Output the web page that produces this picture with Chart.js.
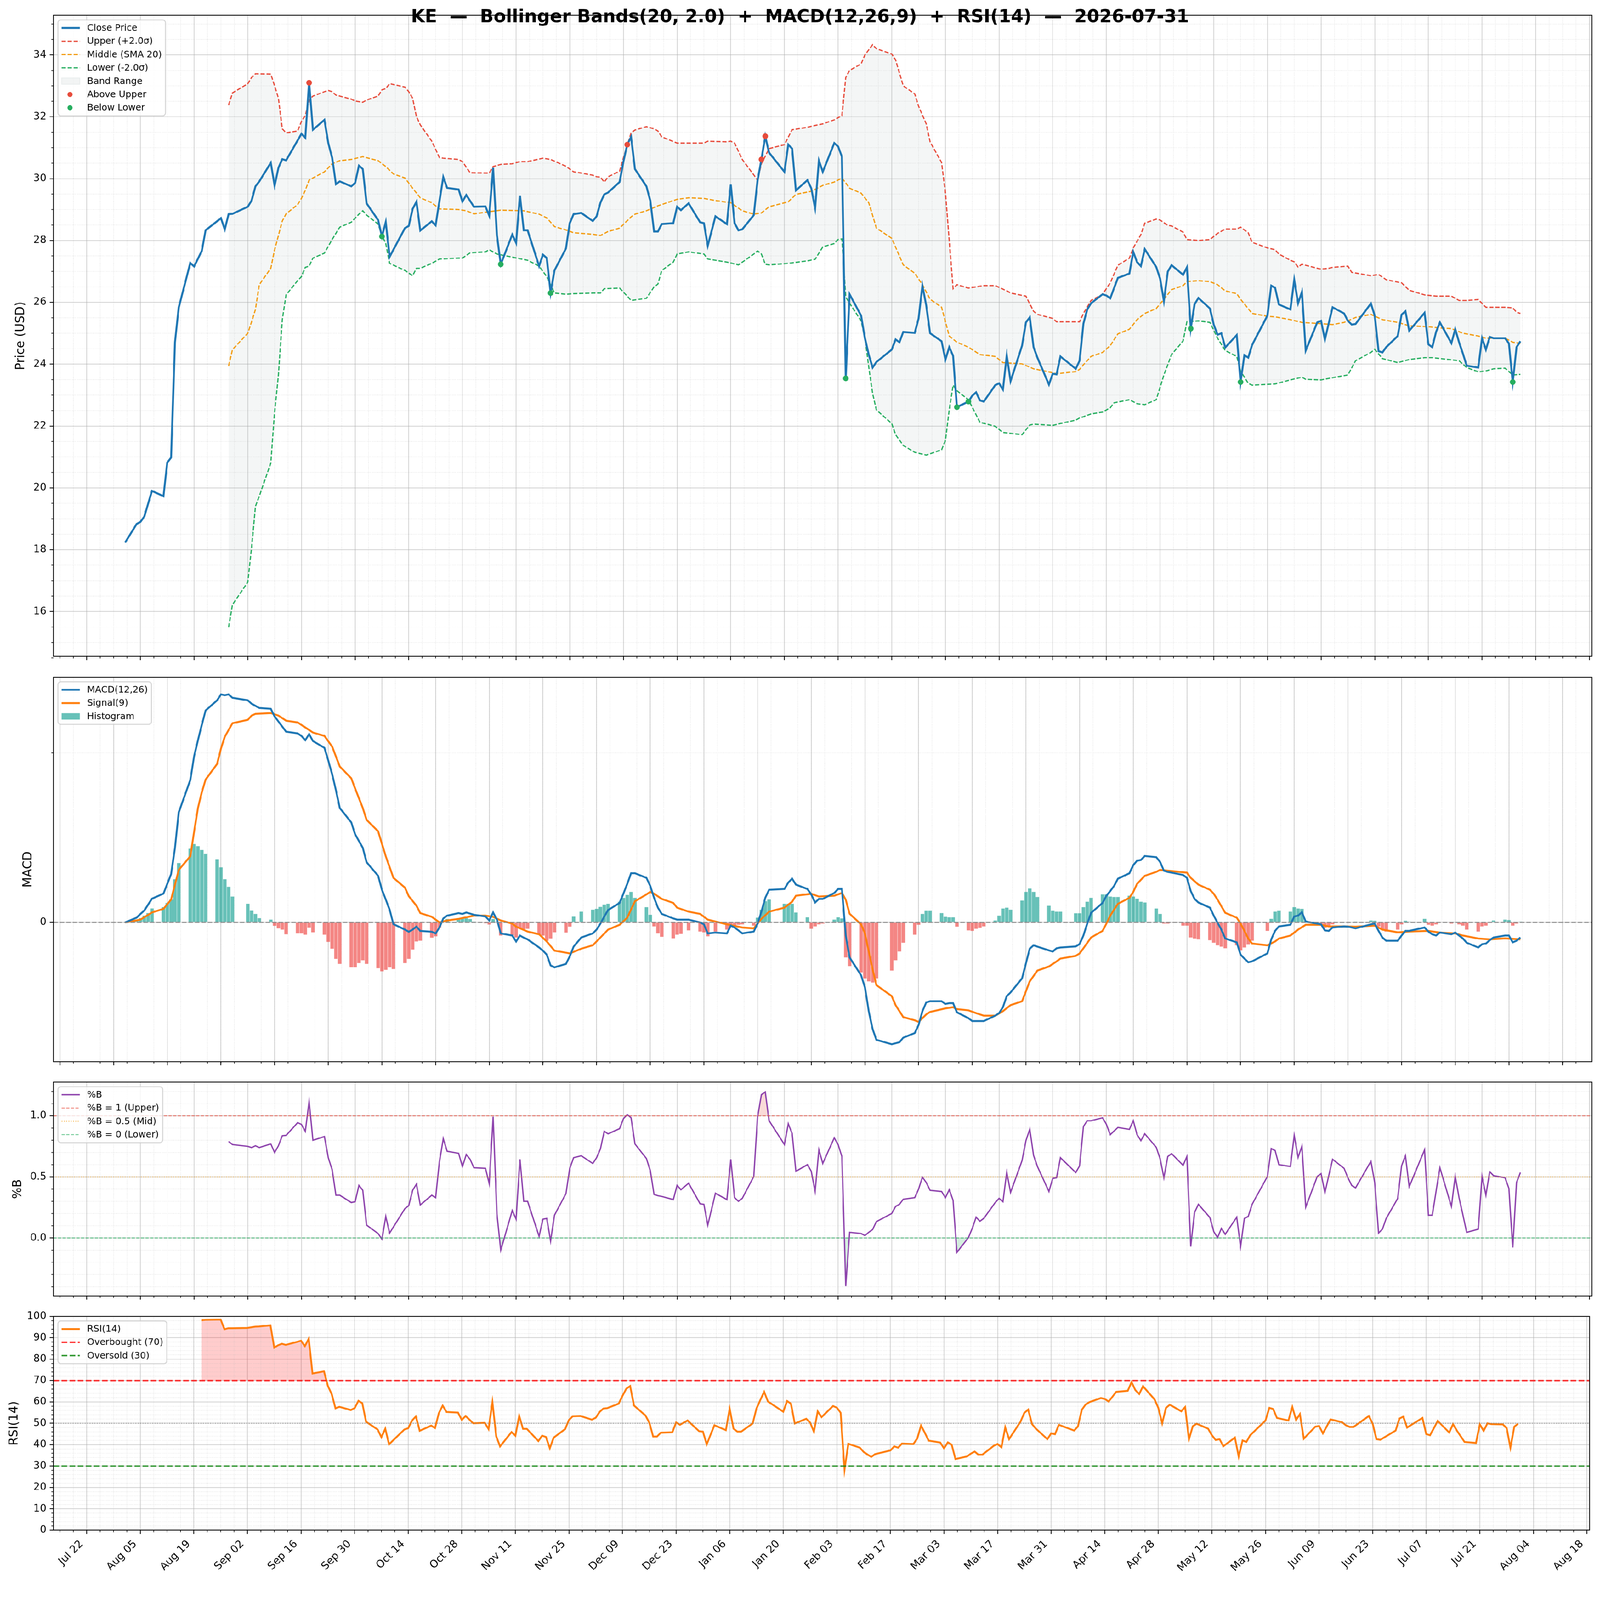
<!DOCTYPE html>
<html><head><meta charset="utf-8">
<script src="https://cdn.jsdelivr.net/npm/chart.js@4.4.1/dist/chart.umd.min.js"></script>
<style>
html,body{margin:0;padding:0;background:#fff;overflow:hidden;}
#wrap{position:absolute;left:0;top:0;width:4378px;height:4322px;background:#fff;overflow:hidden;transform-origin:0 0;}
canvas{position:absolute;left:0;}
</style></head><body>
<div id="wrap">
<canvas id="cPrice" width="4378" height="1824" style="top:0px;width:4378px;height:1824px"></canvas>
<canvas id="cMacd" width="4378" height="1109" style="top:1824px;width:4378px;height:1109px"></canvas>
<canvas id="cPctb" width="4378" height="641" style="top:2933px;width:4378px;height:641px"></canvas>
<canvas id="cRsi" width="4378" height="748" style="top:3574px;width:4378px;height:748px"></canvas>
</div>
<script>
// fit the 4378x4322 drawing into the actual viewport
(function(){
  const w = document.getElementById('wrap');
  const s = Math.min(window.innerWidth / 4378, window.innerHeight / 4322);
  if (s > 0 && Math.abs(s - 1) > 0.001) w.style.transform = 'scale(' + s + ')';
})();

// ---------------- DATA (dates as MM-DD; Aug-Dec = 2025, Jan-Jul = 2026) ----------------
const closeData = [
["08-01",18.23],["08-04",18.83],["08-05",18.90],["08-06",19.07],["08-08",19.90],["08-11",19.73],["08-12",20.82],["08-13",20.98],["08-14",24.71],["08-15",25.84],["08-18",27.27],["08-19",27.16],["08-21",27.66],["08-22",28.33],["08-26",28.72],["08-27",28.36],["08-28",28.85],["08-29",28.86],
["09-02",29.09],["09-03",29.29],["09-04",29.75],["09-05",29.91],["09-08",30.51],["09-09",29.78],["09-10",30.35],["09-11",30.63],["09-12",30.59],["09-16",31.45],["09-17",31.32],["09-18",33.10],["09-19",31.58],["09-22",31.90],["09-23",31.15],["09-24",30.68],["09-25",29.82],["09-26",29.91],["09-29",29.75],["09-30",29.86],
["10-01",30.42],["10-02",30.31],["10-03",29.20],["10-06",28.66],["10-07",28.13],["10-08",28.60],["10-09",27.47],["10-13",28.40],["10-14",28.47],["10-15",29.02],["10-16",29.25],["10-17",28.32],["10-20",28.62],["10-21",28.49],["10-23",30.05],["10-24",29.70],["10-27",29.65],["10-28",29.26],["10-29",29.47],["10-31",29.09],
["11-03",29.10],["11-04",28.80],["11-05",30.35],["11-06",28.16],["11-07",27.23],["11-10",28.19],["11-11",27.92],["11-12",29.45],["11-13",28.33],["11-14",28.33],["11-17",27.17],["11-18",27.54],["11-19",27.43],["11-20",26.30],["11-21",27.03],["11-24",27.74],["11-25",28.56],["11-26",28.85],["11-28",28.89],
["12-01",28.63],["12-02",28.78],["12-03",29.22],["12-04",29.49],["12-05",29.55],["12-08",29.89],["12-09",30.55],["12-10",31.10],["12-11",31.35],["12-12",30.31],["12-15",29.75],["12-16",29.29],["12-17",28.29],["12-18",28.29],["12-19",28.53],["12-22",28.56],["12-23",29.09],["12-24",28.98],["12-26",29.20],["12-29",28.59],["12-30",28.56],["12-31",27.83],
["01-02",28.78],["01-05",28.53],["01-06",29.82],["01-07",28.56],["01-08",28.33],["01-09",28.36],["01-12",28.82],["01-13",29.95],["01-14",30.62],["01-15",31.37],["01-16",30.84],["01-20",30.22],["01-21",31.10],["01-22",30.97],["01-23",29.62],["01-26",29.95],["01-27",29.69],["01-28",29.05],["01-29",30.58],["01-30",30.22],
["02-02",31.15],["02-03",31.04],["02-04",30.71],["02-05",23.54],["02-06",26.26],["02-09",25.57],["02-10",24.84],["02-11",24.31],["02-12",23.89],["02-13",24.07],["02-17",24.47],["02-18",24.80],["02-19",24.71],["02-20",25.04],["02-23",25.01],["02-24",25.48],["02-25",26.53],["02-26",25.90],["02-27",25.00],
["03-02",24.74],["03-03",24.15],["03-04",24.55],["03-05",24.27],["03-06",22.61],["03-09",22.79],["03-10",22.98],["03-11",23.09],["03-12",22.83],["03-13",22.79],["03-16",23.32],["03-17",23.38],["03-18",23.18],["03-19",24.27],["03-20",23.45],["03-23",24.60],["03-24",25.35],["03-25",25.51],["03-26",24.55],["03-27",24.21],["03-30",23.34],["03-31",23.69],
["04-01",23.67],["04-02",24.25],["04-06",23.85],["04-07",24.11],["04-08",25.31],["04-09",25.77],["04-10",25.97],["04-13",26.26],["04-14",26.22],["04-15",26.13],["04-16",26.46],["04-17",26.79],["04-20",26.93],["04-21",27.63],["04-22",27.30],["04-23",27.17],["04-24",27.72],["04-27",27.14],["04-28",26.77],["04-29",26.04],["04-30",26.99],
["05-01",27.20],["05-04",26.89],["05-05",27.13],["05-06",25.15],["05-07",25.94],["05-08",26.14],["05-11",25.80],["05-12",25.28],["05-13",24.95],["05-14",25.00],["05-15",24.54],["05-18",24.94],["05-19",23.42],["05-20",24.29],["05-21",24.21],["05-22",24.62],["05-26",25.57],["05-27",26.54],["05-28",26.47],["05-29",25.93],
["06-01",25.77],["06-02",26.73],["06-03",25.97],["06-04",26.33],["06-05",24.44],["06-08",25.35],["06-09",25.40],["06-10",24.80],["06-12",25.84],["06-15",25.64],["06-16",25.40],["06-17",25.28],["06-18",25.30],["06-22",25.96],["06-23",25.57],["06-24",24.42],["06-25",24.38],["06-26",24.55],["06-29",24.91],["06-30",25.60],
["07-01",25.71],["07-02",25.08],["07-06",25.66],["07-07",24.64],["07-08",24.55],["07-09",25.04],["07-10",25.35],["07-13",24.68],["07-14",25.13],["07-15",24.71],["07-16",24.34],["07-17",23.95],["07-20",23.89],["07-21",24.84],["07-22",24.47],["07-23",24.88],["07-24",24.84],["07-27",24.84],["07-28",24.67],["07-29",23.42],["07-30",24.55],["07-31",24.74]
];
const upperData = [
["08-28",32.38],["08-29",32.77],["09-02",33.07],["09-03",33.27],["09-04",33.39],["09-08",33.38],["09-09",33.00],["09-10",32.60],["09-11",31.61],["09-12",31.48],["09-15",31.54],["09-16",31.85],["09-17",32.04],["09-18",32.54],["09-19",32.67],["09-22",32.81],["09-23",32.85],["09-24",32.81],["09-25",32.70],["09-26",32.67],["09-29",32.57],["09-30",32.51],["10-02",32.47],["10-03",32.54],["10-06",32.67],["10-07",32.87],["10-08",32.91],["10-09",33.07],["10-13",32.96],["10-14",32.81],["10-15",32.60],["10-16",32.01],["10-17",31.74],["10-20",31.21],["10-21",30.95],["10-22",30.68],["10-23",30.66],["10-27",30.62],["10-28",30.55],["10-30",30.19],["11-03",30.18],["11-04",30.18],["11-05",30.39],["11-07",30.46],["11-10",30.48],["11-12",30.55],["11-14",30.55],["11-18",30.66],["11-20",30.62],["11-24",30.40],["11-26",30.22],["11-28",30.18],
["12-01",30.11],["12-02",30.06],["12-03",30.05],["12-04",29.89],["12-05",30.06],["12-08",30.24],["12-09",30.68],["12-11",31.48],["12-12",31.57],["12-15",31.68],["12-17",31.61],["12-18",31.54],["12-19",31.35],["12-23",31.15],["12-30",31.15],["12-31",31.21],["01-05",31.19],["01-06",31.21],["01-07",31.15],["01-09",30.62],["01-12",30.12],["01-13",29.95],["01-14",30.48],["01-16",30.97],["01-20",31.10],["01-22",31.58],["01-26",31.66],["01-28",31.72],["01-30",31.77],["02-02",31.90],["02-04",32.04],["02-05",33.27],["02-06",33.50],["02-09",33.71],["02-10",34.00],["02-12",34.33],["02-13",34.20],["02-17",34.03],["02-18",33.84],["02-20",33.00],["02-23",32.74],["02-24",32.34],["02-26",31.77],["02-27",31.19],
["03-02",30.52],["03-03",29.55],["03-04",28.00],["03-05",26.44],["03-06",26.57],["03-09",26.46],["03-11",26.50],["03-13",26.54],["03-16",26.54],["03-19",26.37],["03-20",26.30],["03-24",26.20],["03-26",25.71],["03-27",25.61],["03-31",25.48],["04-01",25.37],["04-06",25.37],["04-07",25.37],["04-08",25.64],["04-10",26.06],["04-13",26.26],["04-15",26.63],["04-17",27.20],["04-20",27.43],["04-21",27.76],["04-23",28.19],["04-24",28.56],["04-27",28.69],["04-28",28.66],["04-30",28.49],["05-01",28.47],["05-04",28.27],["05-05",28.03],["05-08",28.00],["05-11",28.03],["05-13",28.23],["05-15",28.37],["05-18",28.37],["05-19",28.43],["05-21",28.25],["05-22",27.94],["05-26",27.76],["05-28",27.70],["05-29",27.56],
["06-01",27.36],["06-02",27.31],["06-03",27.14],["06-04",27.23],["06-09",27.07],["06-11",27.10],["06-12",27.13],["06-16",27.17],["06-17",26.97],["06-22",26.86],["06-24",26.90],["06-26",26.73],["06-30",26.63],["07-02",26.39],["07-06",26.24],["07-09",26.20],["07-13",26.20],["07-15",26.06],["07-17",26.06],["07-20",26.09],["07-22",25.84],["07-27",25.84],["07-29",25.82],["07-30",25.68],["07-31",25.64]
];
const middleData = [
["08-28",23.94],["08-29",24.47],["09-02",25.00],["09-03",25.37],["09-04",25.77],["09-05",26.57],["09-08",27.10],["09-09",27.70],["09-10",28.16],["09-11",28.63],["09-12",28.86],["09-15",29.16],["09-16",29.36],["09-17",29.62],["09-18",29.95],["09-19",30.02],["09-22",30.22],["09-24",30.48],["09-26",30.58],["09-29",30.62],["10-01",30.68],["10-02",30.71],["10-06",30.58],["10-08",30.39],["10-10",30.15],["10-13",30.02],["10-15",29.69],["10-17",29.38],["10-20",29.22],["10-22",29.02],["10-27",29.00],["10-29",28.96],["10-31",28.86],["11-04",28.93],["11-07",28.98],["11-13",28.96],["11-17",28.85],["11-19",28.73],["11-21",28.45],["11-24",28.34],["11-26",28.25],
["12-01",28.20],["12-03",28.16],["12-05",28.29],["12-08",28.40],["12-11",28.76],["12-12",28.85],["12-15",28.96],["12-18",29.12],["12-23",29.33],["12-26",29.38],["12-30",29.36],["01-02",29.29],["01-06",29.22],["01-09",28.96],["01-12",28.85],["01-14",28.89],["01-16",29.09],["01-21",29.25],["01-23",29.49],["01-27",29.59],["01-30",29.78],["02-02",29.89],["02-04",30.02],["02-05",29.86],["02-06",29.69],["02-09",29.53],["02-11",29.22],["02-13",28.40],["02-17",28.07],["02-20",27.21],["02-23",26.94],["02-25",26.57],["02-27",26.10],
["03-02",25.84],["03-04",24.91],["03-06",24.71],["03-09",24.55],["03-12",24.31],["03-16",24.25],["03-18",24.05],["03-23",24.01],["03-26",23.85],["03-30",23.75],["04-01",23.69],["04-06",23.76],["04-07",23.83],["04-08",23.98],["04-10",24.25],["04-13",24.38],["04-15",24.60],["04-17",24.98],["04-20",25.13],["04-22",25.44],["04-24",25.64],["04-27",25.80],["04-29",26.10],["05-01",26.41],["05-04",26.54],["05-05",26.67],["05-08",26.70],["05-11",26.67],["05-13",26.57],["05-15",26.37],["05-18",26.28],["05-19",26.10],["05-22",25.64],["05-26",25.55],["05-28",25.53],
["06-01",25.44],["06-04",25.35],["06-09",25.31],["06-12",25.28],["06-15",25.35],["06-18",25.51],["06-22",25.61],["06-25",25.44],["06-29",25.35],["07-02",25.24],["07-07",25.21],["07-10",25.17],["07-13",25.15],["07-16",25.00],["07-20",24.91],["07-22",24.84],["07-27",24.84],["07-29",24.71],["07-31",24.67]
];
const lowerData = [
["08-28",15.49],["08-29",16.22],["09-02",16.95],["09-03",18.07],["09-04",19.40],["09-05",19.73],["09-08",20.80],["09-09",22.45],["09-10",23.65],["09-11",25.44],["09-12",26.24],["09-15",26.70],["09-16",26.83],["09-17",27.13],["09-18",27.17],["09-19",27.43],["09-22",27.59],["09-24",28.03],["09-25",28.23],["09-26",28.43],["09-29",28.59],["10-01",28.85],["10-02",28.96],["10-03",28.82],["10-06",28.53],["10-07",28.16],["10-08",27.90],["10-09",27.26],["10-13",27.03],["10-15",26.86],["10-16",27.10],["10-17",27.10],["10-20",27.26],["10-22",27.40],["10-27",27.43],["10-28",27.43],["10-30",27.60],["11-03",27.63],["11-04",27.70],["11-06",27.56],["11-10",27.46],["11-14",27.36],["11-17",27.17],["11-19",26.83],["11-21",26.30],["11-24",26.26],["11-26",26.28],
["12-01",26.30],["12-03",26.30],["12-04",26.44],["12-08",26.46],["12-10",26.20],["12-11",26.06],["12-15",26.13],["12-17",26.50],["12-18",26.59],["12-19",27.03],["12-22",27.30],["12-23",27.56],["12-26",27.63],["12-30",27.56],["12-31",27.40],["01-05",27.30],["01-08",27.21],["01-12",27.56],["01-13",27.66],["01-14",27.56],["01-15",27.23],["01-16",27.21],["01-21",27.26],["01-26",27.34],["01-28",27.39],["01-30",27.79],["02-02",27.90],["02-03",28.03],["02-04",28.05],["02-05",26.17],["02-06",25.97],["02-09",25.40],["02-10",24.84],["02-11",23.91],["02-12",23.05],["02-13",22.52],["02-17",22.08],["02-18",21.72],["02-20",21.37],["02-23",21.15],["02-26",21.06],
["03-02",21.23],["03-03",21.53],["03-04",22.52],["03-05",23.32],["03-06",23.14],["03-09",22.85],["03-12",22.12],["03-16",21.99],["03-18",21.79],["03-23",21.72],["03-25",22.03],["03-26",22.06],["03-31",22.02],["04-02",22.08],["04-06",22.19],["04-07",22.26],["04-08",22.30],["04-10",22.39],["04-13",22.45],["04-15",22.59],["04-16",22.75],["04-20",22.85],["04-22",22.72],["04-24",22.69],["04-27",22.85],["04-29",23.65],["05-01",24.31],["05-04",24.75],["05-05",25.37],["05-08",25.40],["05-11",25.35],["05-13",24.84],["05-15",24.44],["05-18",24.25],["05-19",23.78],["05-21",23.38],["05-22",23.32],["05-28",23.36],
["06-01",23.49],["06-04",23.58],["06-05",23.51],["06-09",23.49],["06-11",23.54],["06-16",23.65],["06-18",24.11],["06-22",24.38],["06-23",24.48],["06-25",24.18],["06-29",24.05],["07-02",24.15],["07-06",24.21],["07-08",24.21],["07-13",24.14],["07-15",24.11],["07-17",23.89],["07-20",23.75],["07-22",23.78],["07-24",23.85],["07-27",23.87],["07-29",23.65],["07-31",23.67]
];
const aboveUpper = [["09-18",33.10],["12-10",31.10],["01-14",30.62],["01-15",31.37]];
const belowLower = [["10-07",28.13],["11-07",27.23],["11-20",26.30],["02-05",23.54],["03-06",22.61],["03-09",22.79],["05-06",25.15],["05-19",23.42],["07-29",23.42]];

const macdData = [
["08-01",0],["08-04",0.056],["08-05",0.10],["08-06",0.14],["08-07",0.21],["08-08",0.28],["08-11",0.34],["08-12",0.455],["08-13",0.57],["08-14",0.88],["08-15",1.30],["08-18",1.68],["08-19",1.96],["08-20",2.15],["08-21",2.33],["08-22",2.50],["08-25",2.62],["08-26",2.69],["08-27",2.68],["08-28",2.69],["08-29",2.65],["09-02",2.62],["09-03",2.58],["09-05",2.53],["09-08",2.52],["09-09",2.43],["09-10",2.37],["09-12",2.25],["09-15",2.23],["09-16",2.20],["09-17",2.15],["09-18",2.22],["09-19",2.14],["09-22",2.06],["09-23",1.91],["09-24",1.75],["09-25",1.56],["09-26",1.35],["09-29",1.18],["09-30",1.04],["10-02",0.88],["10-03",0.71],["10-06",0.55],["10-07",0.385],["10-08",0.27],["10-09",0.15],["10-10",-0.02],["10-13",-0.085],["10-14",-0.11],["10-15",-0.085],["10-16",-0.05],["10-17",-0.10],["10-20",-0.11],["10-21",-0.13],["10-22",-0.06],["10-23",0.047],["10-24",0.08],["10-27",0.11],["10-28",0.10],["10-29",0.117],["10-31",0.09],
["11-03",0.07],["11-04",0.023],["11-05",0.117],["11-06",0.033],["11-07",-0.13],["11-10",-0.155],["11-11",-0.225],["11-12",-0.155],["11-13",-0.18],["11-14",-0.20],["11-17",-0.296],["11-18",-0.333],["11-19",-0.38],["11-20",-0.507],["11-21",-0.53],["11-24",-0.49],["11-25",-0.40],["11-26",-0.286],["11-28",-0.178],["12-01",-0.13],["12-02",-0.085],["12-03",-0.014],["12-04",0.07],["12-05",0.146],["12-08",0.23],["12-09",0.34],["12-10",0.455],["12-11",0.58],["12-12",0.58],["12-15",0.526],["12-16",0.43],["12-17",0.29],["12-18",0.174],["12-19",0.10],["12-22",0.047],["12-23",0.033],["12-26",0.033],["12-29",0.0],["12-30",-0.023],["12-31",-0.13],
["01-02",-0.12],["01-05",-0.13],["01-06",-0.038],["01-07",-0.06],["01-08",-0.094],["01-09",-0.13],["01-12",-0.108],["01-13",-0.014],["01-14",0.127],["01-15",0.29],["01-16",0.385],["01-20",0.394],["01-21",0.47],["01-22",0.516],["01-23",0.446],["01-26",0.394],["01-27",0.33],["01-28",0.235],["01-29",0.277],["01-30",0.277],["02-02",0.347],["02-03",0.394],["02-04",0.394],["02-05",-0.155],["02-06",-0.413],["02-09",-0.624],["02-10",-0.765],["02-11",-1.047],["02-12",-1.258],["02-13",-1.385],["02-17",-1.437],["02-19",-1.413],["02-20",-1.36],["02-23",-1.305],["02-24",-1.21],["02-25",-1.047],["02-26",-0.944],["02-27",-0.93],
["03-02",-0.93],["03-03",-0.962],["03-04",-0.953],["03-05",-0.953],["03-06",-1.06],["03-09",-1.13],["03-10",-1.164],["03-13",-1.164],["03-16",-1.10],["03-17",-1.07],["03-18",-1.00],["03-19",-0.87],["03-20",-0.826],["03-23",-0.66],["03-24",-0.484],["03-25",-0.31],["03-26",-0.27],["03-27",-0.286],["03-30",-0.33],["03-31",-0.343],["04-01",-0.305],["04-02",-0.296],["04-06",-0.283],["04-07",-0.255],["04-08",-0.155],["04-09",-0.014],["04-10",0.113],["04-13",0.23],["04-14",0.315],["04-15",0.37],["04-16",0.43],["04-17",0.516],["04-20",0.58],["04-21",0.676],["04-22",0.728],["04-23",0.737],["04-24",0.784],["04-27",0.77],["04-28",0.714],["04-29",0.61],["04-30",0.596],
["05-01",0.587],["05-04",0.56],["05-05",0.526],["05-06",0.37],["05-07",0.277],["05-08",0.235],["05-11",0.174],["05-12",0.08],["05-13",-0.005],["05-14",-0.085],["05-15",-0.19],["05-18",-0.235],["05-19",-0.38],["05-20",-0.427],["05-21",-0.47],["05-22",-0.46],["05-26",-0.366],["05-27",-0.20],["05-28",-0.10],["05-29",-0.047],["06-01",-0.028],["06-02",0.07],["06-03",0.08],["06-04",0.12],["06-05",0.01],["06-08",-0.014],["06-09",-0.023],["06-10",-0.094],["06-11",-0.10],["06-12",-0.06],["06-15",-0.047],["06-16",-0.05],["06-18",-0.07],["06-22",-0.023],["06-23",-0.014],["06-24",-0.10],["06-25",-0.178],["06-26",-0.216],["06-29",-0.216],["06-30",-0.155],
["07-01",-0.10],["07-02",-0.10],["07-06",-0.06],["07-07",-0.108],["07-08",-0.14],["07-09",-0.155],["07-10",-0.12],["07-13",-0.14],["07-14",-0.12],["07-15",-0.155],["07-16",-0.19],["07-17",-0.24],["07-20",-0.296],["07-21",-0.258],["07-22",-0.25],["07-23",-0.21],["07-24",-0.178],["07-27",-0.155],["07-28",-0.155],["07-29",-0.235],["07-30",-0.216],["07-31",-0.178]
];
const signalData = [
["08-01",0],["08-05",0.033],["08-08",0.117],["08-11",0.16],["08-13",0.27],["08-15",0.62],["08-18",0.78],["08-19",1.07],["08-20",1.35],["08-21",1.535],["08-22",1.685],["08-25",1.87],["08-26",2.05],["08-27",2.19],["08-29",2.35],["09-02",2.39],["09-03",2.44],["09-04",2.46],["09-08",2.47],["09-10",2.44],["09-12",2.38],["09-15",2.36],["09-17",2.30],["09-19",2.24],["09-22",2.20],["09-24",2.075],["09-26",1.84],["09-29",1.70],["09-30",1.58],["10-02",1.35],["10-03",1.21],["10-06",1.075],["10-08",0.78],["10-10",0.526],["10-13",0.41],["10-14",0.31],["10-16",0.197],["10-17",0.11],["10-20",0.066],["10-22",0.0],["10-24",0.023],["10-27",0.042],["10-31",0.08],
["11-03",0.08],["11-05",0.066],["11-07",0.023],["11-10",-0.014],["11-11",-0.05],["11-14",-0.108],["11-17",-0.14],["11-19",-0.225],["11-21",-0.333],["11-24",-0.357],["11-25",-0.366],["11-28",-0.31],["12-01",-0.27],["12-03",-0.178],["12-05",-0.085],["12-08",-0.028],["12-10",0.056],["12-12",0.25],["12-15",0.33],["12-16",0.36],["12-17",0.338],["12-19",0.277],["12-22",0.23],["12-23",0.174],["12-26",0.127],["12-29",0.10],["12-31",0.033],
["01-05",-0.023],["01-09",-0.06],["01-12",-0.07],["01-14",0.042],["01-16",0.127],["01-20",0.174],["01-22",0.244],["01-23",0.315],["01-27",0.338],["01-29",0.305],["02-02",0.315],["02-04",0.347],["02-05",0.268],["02-06",0.103],["02-09",-0.023],["02-10",-0.13],["02-11",-0.343],["02-12",-0.554],["02-13",-0.74],["02-17",-0.87],["02-18",-0.976],["02-20",-1.117],["02-23",-1.155],["02-24",-1.174],["02-26",-1.085],["02-27",-1.056],
["03-03",-1.014],["03-05",-1.00],["03-06",-1.023],["03-09",-1.037],["03-11",-1.07],["03-13",-1.10],["03-16",-1.10],["03-18",-1.047],["03-20",-0.976],["03-23",-0.93],["03-25",-0.695],["03-27",-0.568],["03-30",-0.52],["04-01",-0.46],["04-02",-0.427],["04-06",-0.395],["04-07",-0.366],["04-08",-0.305],["04-10",-0.178],["04-13",-0.10],["04-14",-0.014],["04-15",0.08],["04-17",0.22],["04-20",0.29],["04-21",0.36],["04-22",0.455],["04-24",0.55],["04-27",0.596],["04-28",0.62],
["05-05",0.587],["05-06",0.526],["05-08",0.446],["05-11",0.385],["05-12",0.338],["05-13",0.268],["05-15",0.113],["05-18",0.056],["05-19",-0.014],["05-20",-0.10],["05-21",-0.19],["05-22",-0.25],["05-26",-0.27],["05-28",-0.225],["05-29",-0.19],["06-01",-0.155],["06-03",-0.085],["06-05",-0.028],["06-09",-0.028],["06-11",-0.047],["06-15",-0.047],["06-18",-0.05],["06-23",-0.038],["06-25",-0.085],["06-29",-0.117],
["07-02",-0.108],["07-07",-0.10],["07-10",-0.12],["07-14",-0.13],["07-16",-0.155],["07-20",-0.19],["07-23",-0.20],["07-27",-0.188],["07-31",-0.20]
];
const histData = [
["08-04",0.02],["08-05",0.05],["08-06",0.08],["08-07",0.11],["08-08",0.165],["08-11",0.18],["08-12",0.23],["08-13",0.27],["08-14",0.51],["08-15",0.70],["08-18",0.87],["08-19",0.925],["08-20",0.90],["08-21",0.855],["08-22",0.81],["08-25",0.746],["08-26",0.65],["08-27",0.51],["08-28",0.42],["08-29",0.305],
["09-02",0.22],["09-03",0.14],["09-04",0.10],["09-05",0.05],["09-08",0.033],["09-09",-0.04],["09-10",-0.07],["09-11",-0.085],["09-12",-0.14],["09-15",-0.13],["09-16",-0.13],["09-17",-0.145],["09-18",-0.06],["09-19",-0.117],["09-22",-0.145],["09-23",-0.23],["09-24",-0.31],["09-25",-0.43],["09-26",-0.49],["09-29",-0.53],["09-30",-0.53],
["10-01",-0.48],["10-02",-0.446],["10-03",-0.49],["10-06",-0.54],["10-07",-0.577],["10-08",-0.56],["10-09",-0.53],["10-10",-0.55],["10-13",-0.48],["10-14",-0.43],["10-15",-0.32],["10-16",-0.225],["10-17",-0.216],["10-20",-0.18],["10-21",-0.164],["10-22",-0.06],["10-23",0.02],["10-24",0.04],["10-27",0.05],["10-28",0.05],["10-29",0.05],["10-30",0.04],["10-31",0.01],
["11-03",-0.01],["11-04",-0.025],["11-05",0.04],["11-06",0.01],["11-07",-0.155],["11-10",-0.155],["11-11",-0.178],["11-12",-0.07],["11-13",-0.08],["11-14",-0.075],["11-17",-0.145],["11-18",-0.155],["11-19",-0.216],["11-20",-0.19],["11-21",-0.117],["11-24",-0.12],["11-25",-0.05],["11-26",0.07],["11-28",0.127],
["12-01",0.15],["12-02",0.16],["12-03",0.183],["12-04",0.21],["12-05",0.22],["12-08",0.244],["12-09",0.29],["12-10",0.324],["12-11",0.36],["12-12",0.29],["12-15",0.18],["12-16",0.09],["12-17",-0.047],["12-18",-0.13],["12-19",-0.17],["12-22",-0.188],["12-23",-0.145],["12-24",-0.136],["12-26",-0.094],["12-29",-0.108],["12-30",-0.117],["12-31",-0.164],
["01-02",-0.108],["01-05",-0.085],["01-06",-0.05],["01-07",-0.038],["01-08",-0.028],["01-09",-0.023],["01-12",-0.038],["01-13",0.056],["01-14",0.15],["01-15",0.25],["01-16",0.27],["01-20",0.22],["01-21",0.22],["01-22",0.22],["01-23",0.117],["01-26",0.06],["01-27",-0.075],["01-28",-0.047],["01-29",-0.023],["01-30",-0.014],
["02-02",0.033],["02-03",0.06],["02-04",0.047],["02-05",-0.413],["02-06",-0.516],["02-09",-0.59],["02-10",-0.66],["02-11",-0.695],["02-12",-0.71],["02-13",-0.66],["02-17",-0.568],["02-18",-0.446],["02-19",-0.343],["02-20",-0.24],["02-23",-0.145],["02-24",-0.028],["02-25",0.10],["02-26",0.136],["02-27",0.136],
["03-02",0.11],["03-03",0.066],["03-04",0.06],["03-05",0.06],["03-06",-0.05],["03-09",-0.094],["03-10",-0.10],["03-11",-0.075],["03-12",-0.066],["03-13",-0.047],["03-16",0.023],["03-17",0.08],["03-18",0.164],["03-19",0.174],["03-20",0.15],["03-23",0.258],["03-24",0.36],["03-25",0.40],["03-26",0.36],["03-27",0.30],["03-30",0.197],["03-31",0.136],
["04-01",0.127],["04-02",0.127],["04-06",0.108],["04-07",0.108],["04-08",0.18],["04-09",0.244],["04-10",0.29],["04-13",0.33],["04-14",0.33],["04-15",0.305],["04-16",0.30],["04-17",0.30],["04-20",0.315],["04-21",0.305],["04-22",0.28],["04-23",0.244],["04-24",0.235],["04-27",0.164],["04-28",0.10],["04-29",-0.014],["04-30",-0.014],
["05-01",-0.005],["05-04",-0.038],["05-05",-0.038],["05-06",-0.178],["05-07",-0.19],["05-08",-0.20],["05-11",-0.21],["05-12",-0.24],["05-13",-0.27],["05-14",-0.286],["05-15",-0.305],["05-18",-0.27],["05-19",-0.33],["05-20",-0.296],["05-21",-0.258],["05-22",-0.216],["05-26",-0.10],["05-27",0.042],["05-28",0.127],["05-29",0.136],
["06-01",0.127],["06-02",0.18],["06-03",0.164],["06-04",0.16],["06-05",0.02],["06-09",-0.023],["06-10",-0.06],["06-11",-0.047],["06-12",-0.023],["06-15",0.005],["06-16",-0.005],["06-17",0.005],["06-18",0.01],["06-22",0.023],["06-23",0.02],["06-24",-0.047],["06-25",-0.085],["06-26",-0.108],["06-29",-0.085],["06-30",-0.023],
["07-01",0.02],["07-02",0.01],["07-06",0.042],["07-07",-0.028],["07-08",-0.038],["07-09",-0.023],["07-10",-0.005],["07-13",-0.014],["07-14",0.005],["07-15",-0.023],["07-16",-0.038],["07-17",-0.085],["07-20",-0.108],["07-21",-0.047],["07-22",-0.038],["07-23",-0.005],["07-24",0.023],["07-27",0.033],["07-28",0.028],["07-29",-0.038],["07-30",-0.014],["07-31",0.01]
];
const pctbData = [
["08-28",0.79],["08-29",0.765],["09-02",0.75],["09-03",0.74],["09-04",0.755],["09-05",0.74],["09-08",0.77],["09-09",0.70],["09-10",0.755],["09-11",0.837],["09-12",0.84],["09-15",0.944],["09-16",0.93],["09-17",0.873],["09-18",1.114],["09-19",0.80],["09-22",0.83],["09-23",0.657],["09-24",0.56],["09-25",0.35],["09-26",0.35],["09-29",0.29],["09-30",0.297],
["10-01",0.43],["10-02",0.39],["10-03",0.105],["10-06",0.036],["10-07",-0.01],["10-08",0.176],["10-09",0.04],["10-13",0.24],["10-14",0.265],["10-15",0.39],["10-16",0.44],["10-17",0.27],["10-20",0.35],["10-21",0.33],["10-22",0.624],["10-23",0.814],["10-24",0.71],["10-27",0.693],["10-28",0.585],["10-29",0.683],["10-30",0.644],["10-31",0.575],
["11-03",0.57],["11-04",0.444],["11-05",0.993],["11-06",0.193],["11-07",-0.10],["11-10",0.225],["11-11",0.154],["11-12",0.644],["11-13",0.30],["11-14",0.30],["11-17",0.013],["11-18",0.154],["11-19",0.16],["11-20",-0.026],["11-21",0.186],["11-24",0.363],["11-25",0.57],["11-26",0.657],["11-28",0.673],
["12-01",0.61],["12-02",0.657],["12-03",0.73],["12-04",0.873],["12-05",0.853],["12-08",0.895],["12-09",0.977],["12-10",1.01],["12-11",0.984],["12-12",0.77],["12-15",0.65],["12-16",0.552],["12-17",0.356],["12-18",0.346],["12-19",0.34],["12-22",0.314],["12-23",0.43],["12-24",0.395],["12-26",0.448],["12-29",0.28],["12-30",0.275],["12-31",0.105],
["01-02",0.366],["01-05",0.314],["01-06",0.644],["01-07",0.33],["01-08",0.30],["01-09",0.324],["01-12",0.503],["01-13",0.993],["01-14",1.173],["01-15",1.196],["01-16",0.96],["01-20",0.765],["01-21",0.935],["01-22",0.856],["01-23",0.546],["01-26",0.60],["01-27",0.546],["01-28",0.382],["01-29",0.722],["01-30",0.61],
["02-02",0.82],["02-03",0.765],["02-04",0.667],["02-05",-0.395],["02-06",0.046],["02-09",0.036],["02-10",0.02],["02-11",0.046],["02-12",0.069],["02-13",0.134],["02-17",0.20],["02-18",0.258],["02-19",0.275],["02-20",0.317],["02-23",0.33],["02-24",0.40],["02-25",0.497],["02-26",0.454],["02-27",0.39],
["03-02",0.38],["03-03",0.33],["03-04",0.395],["03-05",0.307],["03-06",-0.118],["03-09",0.003],["03-10",0.078],["03-11",0.17],["03-12",0.137],["03-13",0.16],["03-16",0.29],["03-17",0.324],["03-18",0.297],["03-19",0.536],["03-20",0.373],["03-23",0.634],["03-24",0.797],["03-25",0.889],["03-26",0.676],["03-27",0.585],["03-30",0.38],["03-31",0.487],
["04-01",0.493],["04-02",0.657],["04-06",0.536],["04-07",0.59],["04-08",0.912],["04-09",0.96],["04-10",0.96],["04-13",0.984],["04-14",0.93],["04-15",0.846],["04-17",0.905],["04-20",0.889],["04-21",0.96],["04-22",0.846],["04-23",0.797],["04-24",0.853],["04-27",0.742],["04-28",0.65],["04-29",0.493],["04-30",0.667],
["05-01",0.69],["05-04",0.595],["05-05",0.667],["05-06",-0.07],["05-07",0.21],["05-08",0.275],["05-11",0.167],["05-12",0.052],["05-13",0.003],["05-14",0.078],["05-15",0.03],["05-18",0.17],["05-19",-0.07],["05-20",0.16],["05-21",0.176],["05-22",0.275],["05-26",0.503],["05-27",0.732],["05-28",0.716],["05-29",0.60],
["06-01",0.585],["06-02",0.84],["06-03",0.66],["06-04",0.75],["06-05",0.252],["06-08",0.503],["06-09",0.526],["06-10",0.373],["06-12",0.644],["06-15",0.57],["06-16",0.493],["06-17",0.43],["06-18",0.41],["06-22",0.627],["06-23",0.454],["06-24",0.04],["06-25",0.072],["06-26",0.16],["06-29",0.324],["06-30",0.59],
["07-01",0.673],["07-02",0.42],["07-06",0.722],["07-07",0.186],["07-08",0.186],["07-10",0.575],["07-13",0.258],["07-14",0.503],["07-15",0.33],["07-17",0.046],["07-20",0.072],["07-21",0.503],["07-22",0.35],["07-23",0.542],["07-24",0.51],["07-27",0.493],["07-28",0.405],["07-29",-0.078],["07-30",0.454],["07-31",0.536]
];
const rsiData = [
["08-21",98.2],["08-22",98.4],["08-25",98.5],["08-26",98.5],["08-27",94.0],["08-28",94.5],["08-29",94.5],["09-02",94.6],["09-03",94.9],["09-04",95.2],["09-05",95.3],["09-08",95.8],["09-09",85.4],["09-10",86.5],["09-11",87.2],["09-12",86.7],["09-15",88.1],["09-16",88.6],["09-17",86.1],["09-18",89.5],["09-19",73.3],["09-22",74.3],["09-23",67.5],["09-24",63.7],["09-25",57.0],["09-26",57.7],["09-29",56.2],["09-30",57.1],
["10-01",60.5],["10-02",59.4],["10-03",50.7],["10-06",47.1],["10-07",43.5],["10-08",47.5],["10-09",40.2],["10-13",47.1],["10-14",47.7],["10-15",51.3],["10-16",53.2],["10-17",46.5],["10-20",48.9],["10-21",47.8],["10-22",54.7],["10-23",58.3],["10-24",55.3],["10-27",55.0],["10-28",51.6],["10-29",53.4],["10-31",50.0],
["11-03",50.2],["11-04",47.3],["11-05",59.9],["11-06",43.9],["11-07",39.2],["11-10",45.9],["11-11",44.2],["11-12",53.4],["11-13",47.4],["11-14",47.4],["11-17",41.7],["11-18",44.2],["11-19",43.6],["11-20",38.3],["11-21",43.3],["11-24",47.3],["11-25",51.6],["11-26",53.3],["11-28",53.4],
["12-01",51.7],["12-02",52.6],["12-03",55.3],["12-04",56.9],["12-05",57.1],["12-08",59.2],["12-09",62.9],["12-10",66.2],["12-11",67.4],["12-12",58.3],["12-15",53.6],["12-16",50.3],["12-17",43.8],["12-18",43.8],["12-19",45.6],["12-22",45.8],["12-23",50.4],["12-24",49.3],["12-26",51.3],["12-29",46.3],["12-30",46.1],["12-31",40.2],
["01-02",49.1],["01-05",46.8],["01-06",56.7],["01-07",47.5],["01-08",46.1],["01-09",46.1],["01-12",49.9],["01-13",56.9],["01-14",60.9],["01-15",64.7],["01-16",60.2],["01-20",55.4],["01-21",60.4],["01-22",59.2],["01-23",49.9],["01-26",52.1],["01-27",50.4],["01-28",46.1],["01-29",55.6],["01-30",52.9],
["02-02",58.1],["02-03",57.3],["02-04",54.9],["02-05",28.3],["02-06",40.4],["02-09",38.6],["02-10",36.6],["02-11",35.4],["02-12",34.3],["02-13",35.6],["02-17",37.3],["02-18",39.2],["02-19",38.6],["02-20",40.5],["02-23",40.3],["02-24",42.9],["02-25",48.9],["02-26",45.5],["02-27",41.9],
["03-02",41.0],["03-03",38.3],["03-04",41.1],["03-05",40.0],["03-06",33.3],["03-09",34.5],["03-10",35.8],["03-11",36.8],["03-12",35.3],["03-13",35.3],["03-16",39.5],["03-17",40.3],["03-18",38.8],["03-19",48.1],["03-20",42.6],["03-23",50.8],["03-24",54.9],["03-25",56.4],["03-26",49.6],["03-27",47.5],["03-30",42.6],["03-31",45.3],
["04-01",44.9],["04-02",49.3],["04-06",46.6],["04-07",48.6],["04-08",56.3],["04-09",58.8],["04-10",59.9],["04-13",61.8],["04-14",61.4],["04-15",60.2],["04-16",62.4],["04-17",64.7],["04-20",65.2],["04-21",69.2],["04-22",65.5],["04-23",63.7],["04-24",67.3],["04-27",61.2],["04-28",57.2],["04-29",50.0],["04-30",57.2],
["05-01",58.7],["05-04",55.6],["05-05",57.6],["05-06",42.6],["05-07",48.6],["05-08",49.8],["05-11",47.5],["05-12",44.4],["05-13",42.2],["05-14",42.6],["05-15",39.3],["05-18",43.3],["05-19",34.5],["05-20",42.0],["05-21",41.3],["05-22",44.4],["05-26",51.3],["05-27",57.2],["05-28",56.7],["05-29",52.5],
["06-01",51.3],["06-02",57.6],["06-03",51.6],["06-04",54.3],["06-05",42.8],["06-08",48.4],["06-09",48.7],["06-10",45.3],["06-12",51.8],["06-15",50.5],["06-16",49.1],["06-17",48.3],["06-18",48.3],["06-22",53.4],["06-23",49.8],["06-24",42.6],["06-25",42.3],["06-29",46.6],["06-30",52.2],
["07-01",53.1],["07-02",48.0],["07-06",52.5],["07-07",45.0],["07-08",44.4],["07-10",51.1],["07-13",45.7],["07-14",49.6],["07-15",46.6],["07-17",41.3],["07-20",40.8],["07-21",49.5],["07-22",46.5],["07-23",50.0],["07-24",49.6],["07-27",49.5],["07-28",47.8],["07-29",38.6],["07-30",48.4],["07-31",49.8]
];

// tick positions / labels
const xTickDates = ["2025-07-22","2025-08-05","2025-08-19","2025-09-02","2025-09-16","2025-09-30","2025-10-14","2025-10-28","2025-11-11","2025-11-25","2025-12-09","2025-12-23","2026-01-06","2026-01-20","2026-02-03","2026-02-17","2026-03-03","2026-03-17","2026-03-31","2026-04-14","2026-04-28","2026-05-12","2026-05-26","2026-06-09","2026-06-23","2026-07-07","2026-07-21","2026-08-04","2026-08-18"];
const priceTicks = [16,18,20,22,24,26,28,30,32,34];
const macdTicks = [0];
const pctbTicks = [0, 0.5, 1.0];
const rsiTicks = [0,10,20,30,40,50,60,70,80,90,100];
const TITLE = "KE  \u2014  Bollinger Bands(20, 2.0)  +  MACD(12,26,9)  +  RSI(14)  \u2014  2026-07-31";

// ---------------- helpers ----------------
const MONTHS = ['Jan','Feb','Mar','Apr','May','Jun','Jul','Aug','Sep','Oct','Nov','Dec'];
const BASE = Date.UTC(2025, 6, 22);
function dayNum(s){
  const p = s.split('-').map(Number); let y,m,d;
  if (p.length === 3) { [y,m,d] = p; } else { [m,d] = p; y = m >= 8 ? 2025 : 2026; }
  return Math.round((Date.UTC(y, m-1, d) - BASE) / 864e5);
}
function fmtDay(v){ const dt = new Date(BASE + Math.round(v) * 864e5); return MONTHS[dt.getUTCMonth()] + ' ' + String(dt.getUTCDate()).padStart(2,'0'); }
const pts = arr => arr.map(([d,v]) => ({x: dayNum(d), y: v}));

const X_MIN = -8.72, X_MAX = 392.67;
const xMajor = xTickDates.map(dayNum);
const xMinor = [];
for (let v = xMajor[0] - 14; v <= X_MAX; v += 3.5) if (v >= X_MIN && !xMajor.includes(v)) xMinor.push(v);
const priceMinor = []; for (let i = 29; i <= 70; i++) if (i % 4 !== 0) priceMinor.push(i/2);
const pctbMinor = []; for (let i = -4; i <= 12; i++) if (i % 5 !== 0) pctbMinor.push(i/10);
const rsiMinor = []; for (let v = 0; v <= 100; v += 2) if (v % 10 !== 0) rsiMinor.push(v);
const macdMinor = [2];

Chart.defaults.font.family = "'DejaVu Sans', sans-serif";
Chart.defaults.color = '#000';
const GRID = 'rgba(176,176,176,0.55)';
const FONT = "'DejaVu Sans', sans-serif";

function line(ctx,x1,y1,x2,y2){ctx.beginPath();ctx.moveTo(x1,y1);ctx.lineTo(x2,y2);ctx.stroke();}
function rrect(ctx,x,y,w,h,r){ctx.beginPath();ctx.moveTo(x+r,y);ctx.lineTo(x+w-r,y);ctx.arcTo(x+w,y,x+w,y+r,r);ctx.lineTo(x+w,y+h-r);ctx.arcTo(x+w,y+h,x+w-r,y+h,r);ctx.lineTo(x+r,y+h);ctx.arcTo(x,y+h,x,y+h-r,r);ctx.lineTo(x,y+r);ctx.arcTo(x,y,x+r,y,r);ctx.closePath();}

function drawLegend(ctx, a, items){
  const fs = 25, bp = 10, th = 23.9, sp = 12.5, hl = 50, htp = 20;
  ctx.save();
  ctx.font = fs + 'px ' + FONT;
  const tw = Math.max(...items.map(it => ctx.measureText(it.label).width));
  const left = a.left + 12.5, top = a.top + 12.5;
  const w = bp + hl + htp + tw + bp;
  const h = 2*bp + items.length*th + (items.length-1)*sp;
  rrect(ctx, left, top, w, h, 8);
  ctx.fillStyle = 'rgba(255,255,255,0.8)'; ctx.fill();
  ctx.strokeStyle = 'rgba(204,204,204,0.8)'; ctx.lineWidth = 2.8; ctx.stroke();
  items.forEach((it, i) => {
    const cy = top + bp + th/2 + i*(th+sp);
    const x0 = left + bp, x1 = x0 + hl;
    if (it.kind === 'line') {
      ctx.strokeStyle = it.color; ctx.lineWidth = it.w; ctx.setLineDash(it.dash || []); ctx.lineCap = 'butt';
      line(ctx, x0, cy, x1, cy); ctx.setLineDash([]);
    } else if (it.kind === 'patch') {
      ctx.fillStyle = it.fill; ctx.fillRect(x0, cy - 0.35*fs, hl, 0.7*fs);
      if (it.edge) { ctx.strokeStyle = it.edge; ctx.lineWidth = 2; ctx.strokeRect(x0, cy - 0.35*fs, hl, 0.7*fs); }
    } else if (it.kind === 'marker') {
      ctx.beginPath(); ctx.arc(x0 + hl/2 - 2, cy, 7, 0, Math.PI*2); ctx.fillStyle = it.color; ctx.fill();
    }
    ctx.fillStyle = '#000'; ctx.textAlign = 'left'; ctx.textBaseline = 'middle';
    ctx.fillText(it.label, x1 + htp, cy + 1);
  });
  ctx.restore();
}

const decor = {
  id: 'decor',
  beforeDatasetsDraw(chart, _a, o) {
    const {ctx, chartArea: a, scales: {x, y}} = chart;
    ctx.save();
    ctx.lineWidth = 1.4; ctx.strokeStyle = 'rgba(176,176,176,0.45)'; ctx.setLineDash([1.4, 2.3]);
    xMinor.forEach(v => { const p = x.getPixelForValue(v); line(ctx, p, a.top, p, a.bottom); });
    (o.minorY || []).forEach(v => { const p = y.getPixelForValue(v); line(ctx, a.left, p, a.right, p); });
    ctx.setLineDash([]);
    ctx.strokeStyle = '#000'; ctx.lineWidth = 1.7;
    xMinor.forEach(v => { const p = x.getPixelForValue(v); line(ctx, p, a.bottom, p, a.bottom + 5.6); });
    (o.minorY || []).forEach(v => { const p = y.getPixelForValue(v); line(ctx, a.left - 5.6, p, a.left, p); });
    ctx.restore();
  },
  afterDatasetsDraw(chart, _a, o) {
    const {ctx, chartArea: a, scales: {y}} = chart;
    ctx.save();
    ctx.beginPath(); ctx.rect(a.left, a.top, a.width, a.height); ctx.clip();
    (o.refs || []).forEach(r => {
      const p = y.getPixelForValue(r.y);
      ctx.strokeStyle = r.color; ctx.lineWidth = r.w; ctx.setLineDash(r.dash || []);
      line(ctx, a.left, p, a.right, p);
    });
    ctx.restore();
    ctx.save();
    ctx.strokeStyle = '#000'; ctx.lineWidth = 2.2; ctx.setLineDash([]);
    ctx.strokeRect(a.left, a.top, a.width, a.height);
    ctx.restore();
    if (o.legend) drawLegend(ctx, a, o.legend);
    if (o.title) {
      ctx.save();
      ctx.font = 'bold 49px ' + FONT; ctx.fillStyle = '#000'; ctx.textAlign = 'center'; ctx.textBaseline = 'alphabetic';
      ctx.fillText(o.title, 2189, 61);
      ctx.restore();
    }
  }
};

function xScale(showLabels, h) {
  return {
    type: 'linear', min: X_MIN, max: X_MAX, offset: false,
    afterBuildTicks: s => { s.ticks = xMajor.map(v => ({value: v})); },
    afterFit: s => { s.height = h; },
    ticks: {display: showLabels, autoSkip: false, minRotation: 45, maxRotation: 45, padding: 11, labelOffset: -14,
            font: {size: 29}, color: '#000', callback: v => fmtDay(v)},
    grid: {color: GRID, lineWidth: 2.2, drawTicks: true, tickLength: 10, tickColor: '#000', tickWidth: 2.2},
    border: {display: false}
  };
}
function yScale(min, max, ticks, fmt, title, titlePad) {
  return {
    type: 'linear', position: 'left', min, max,
    afterBuildTicks: s => { s.ticks = ticks.map(v => ({value: v})); },
    afterFit: s => { s.width = 146; },
    ticks: {font: {size: 28}, color: '#000', padding: 9, callback: v => fmt(v)},
    grid: {color: GRID, lineWidth: 2.2, drawTicks: true, tickLength: 10, tickColor: '#000', tickWidth: 2.2},
    border: {display: false},
    title: {display: true, text: title, font: {size: 33}, color: '#000', padding: {top: titlePad, bottom: 0}}
  };
}
function baseOptions(padTop, xs, ys, decorOpts) {
  return {
    responsive: false, animation: false, devicePixelRatio: 1, events: [],
    layout: {padding: {top: padTop, right: 22, left: 0, bottom: 0}},
    elements: {point: {radius: 0}, line: {tension: 0}},
    scales: {x: xs, y: ys},
    plugins: {legend: {display: false}, tooltip: {enabled: false}, title: {display: false},
              filler: {drawTime: 'beforeDatasetsDraw'}, decor: decorOpts}
  };
}
const dashed = [11.5, 5];
const W_CLOSE = 5.4, W_BAND = 3.4, W_MACD = 5.2, W_RSI = 5.0, W_PB = 3.7;

// ---------------- PRICE ----------------
new Chart(document.getElementById('cPrice'), {
  type: 'line',
  data: {datasets: [
    {label: 'Close Price', data: pts(closeData), borderColor: '#1f77b4', borderWidth: W_CLOSE, order: 1},
    {label: 'Upper (+2.0σ)', data: pts(upperData), borderColor: '#e74c3c', borderWidth: W_BAND, borderDash: dashed,
     fill: '+2', backgroundColor: 'rgba(149,165,166,0.1)', order: 4},
    {label: 'Middle (SMA 20)', data: pts(middleData), borderColor: '#f39c12', borderWidth: W_BAND, borderDash: dashed, order: 3},
    {label: 'Lower (-2.0σ)', data: pts(lowerData), borderColor: '#27ae60', borderWidth: W_BAND, borderDash: dashed, order: 2},
    {label: 'Above Upper', data: pts(aboveUpper), showLine: false, pointRadius: 7.8, pointBackgroundColor: '#e74c3c', pointBorderWidth: 0, borderColor: '#e74c3c', order: 0},
    {label: 'Below Lower', data: pts(belowLower), showLine: false, pointRadius: 7.8, pointBackgroundColor: '#27ae60', pointBorderWidth: 0, borderColor: '#27ae60', order: 0}
  ]},
  options: baseOptions(42, xScale(false, 28), yScale(14.55, 35.28, priceTicks, v => String(v), 'Price (USD)', 38), {
    minorY: priceMinor, title: TITLE,
    legend: [
      {kind: 'line', color: '#1f77b4', w: W_CLOSE, label: 'Close Price'},
      {kind: 'line', color: '#e74c3c', w: W_BAND, dash: dashed, label: 'Upper (+2.0σ)'},
      {kind: 'line', color: '#f39c12', w: W_BAND, dash: dashed, label: 'Middle (SMA 20)'},
      {kind: 'line', color: '#27ae60', w: W_BAND, dash: dashed, label: 'Lower (-2.0σ)'},
      {kind: 'patch', fill: 'rgba(149,165,166,0.12)', edge: 'rgba(149,165,166,0.15)', label: 'Band Range'},
      {kind: 'marker', color: '#e74c3c', label: 'Above Upper'},
      {kind: 'marker', color: '#27ae60', label: 'Below Lower'}
    ]
  }),
  plugins: [decor]
});

// ---------------- MACD ----------------
new Chart(document.getElementById('cMacd'), {
  type: 'line',
  data: {datasets: [
    {label: 'MACD(12,26)', data: pts(macdData), borderColor: '#1f77b4', borderWidth: W_MACD, order: 0},
    {label: 'Signal(9)', data: pts(signalData), borderColor: '#ff7f0e', borderWidth: W_MACD, order: 1},
    {type: 'bar', label: 'Histogram', data: pts(histData), barPercentage: 0.92, categoryPercentage: 1,
     backgroundColor: c => (c.raw && c.raw.y >= 0) ? 'rgba(38,166,154,0.7)' : 'rgba(239,83,80,0.7)', borderWidth: 0, order: 2}
  ]},
  options: baseOptions(29, xScale(false, 28), yScale(-1.643, 2.893, macdTicks, v => '0', 'MACD', 58), {
    minorY: macdMinor,
    refs: [{y: 0, color: 'rgba(128,128,128,0.85)', w: 3.3, dash: [12.3, 5.3]}],
    legend: [
      {kind: 'line', color: '#1f77b4', w: W_MACD, label: 'MACD(12,26)'},
      {kind: 'line', color: '#ff7f0e', w: W_MACD, label: 'Signal(9)'},
      {kind: 'patch', fill: 'rgba(38,166,154,0.7)', label: 'Histogram'}
    ]
  }),
  plugins: [decor]
});

// ---------------- %B ----------------
const pctbPts = pts(pctbData);
new Chart(document.getElementById('cPctb'), {
  type: 'line',
  data: {datasets: [
    {label: '%B', data: pctbPts, borderColor: '#8e44ad', borderWidth: W_PB, order: 0,
     fill: {target: {value: 1}, above: 'rgba(231,76,60,0.2)', below: 'rgba(0,0,0,0)'}},
    {label: '%B low', data: pctbPts, borderColor: 'rgba(0,0,0,0)', borderWidth: 0, order: 1,
     fill: {target: {value: 0}, above: 'rgba(0,0,0,0)', below: 'rgba(39,174,96,0.2)'}}
  ]},
  options: baseOptions(28, xScale(false, 28), yScale(-0.475, 1.276, pctbTicks, v => v.toFixed(1), '%B', 30), {
    minorY: pctbMinor,
    refs: [
      {y: 1, color: 'rgba(231,76,60,0.7)', w: 2.4, dash: [8.8, 3.8]},
      {y: 0.5, color: 'rgba(243,156,18,0.7)', w: 2.4, dash: [2.4, 3.9]},
      {y: 0, color: 'rgba(39,174,96,0.7)', w: 2.4, dash: [8.8, 3.8]}
    ],
    legend: [
      {kind: 'line', color: '#8e44ad', w: W_PB, label: '%B'},
      {kind: 'line', color: 'rgba(231,76,60,0.7)', w: 2.4, dash: [8.8, 3.8], label: '%B = 1 (Upper)'},
      {kind: 'line', color: 'rgba(243,156,18,0.7)', w: 2.4, dash: [2.4, 3.9], label: '%B = 0.5 (Mid)'},
      {kind: 'line', color: 'rgba(39,174,96,0.7)', w: 2.4, dash: [8.8, 3.8], label: '%B = 0 (Lower)'}
    ]
  }),
  plugins: [decor]
});

// ---------------- RSI ----------------
new Chart(document.getElementById('cRsi'), {
  type: 'line',
  data: {datasets: [
    {label: 'RSI(14)', data: pts(rsiData), borderColor: '#ff7f0e', borderWidth: W_RSI, order: 0,
     fill: {target: {value: 70}, above: 'rgba(255,0,0,0.2)', below: 'rgba(0,0,0,0)'}}
  ]},
  options: baseOptions(28, xScale(true, 135), yScale(0, 100, rsiTicks, v => String(v), 'RSI(14)', 20), {
    minorY: rsiMinor,
    refs: [
      {y: 70, color: 'rgba(255,0,0,0.8)', w: 4.2, dash: [15.5, 6.7]},
      {y: 30, color: 'rgba(0,128,0,0.8)', w: 4.2, dash: [15.5, 6.7]},
      {y: 50, color: 'rgba(128,128,128,0.7)', w: 2.5, dash: [2.5, 4.1]}
    ],
    legend: [
      {kind: 'line', color: '#ff7f0e', w: W_RSI, label: 'RSI(14)'},
      {kind: 'line', color: 'rgba(255,0,0,0.8)', w: 4.2, dash: [15.5, 6.7], label: 'Overbought (70)'},
      {kind: 'line', color: 'rgba(0,128,0,0.8)', w: 4.2, dash: [15.5, 6.7], label: 'Oversold (30)'}
    ]
  }),
  plugins: [decor]
});
</script>
</body></html>
